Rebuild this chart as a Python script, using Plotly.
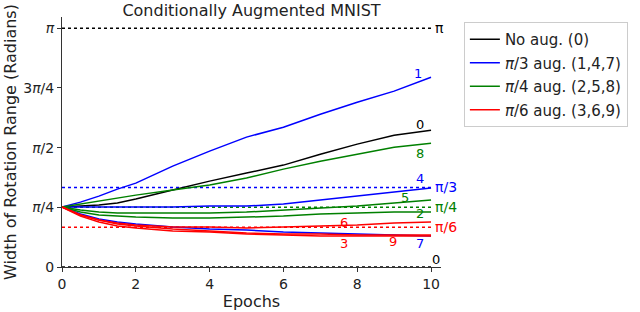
import math
import plotly.graph_objects as go

PI = math.pi

# ---- data ----
epochs = [0, 0.5, 1, 1.5, 2, 3, 4, 5, 6, 7, 8, 9, 10]

run0 = [0.789, 0.802, 0.815, 0.841, 0.894, 1.012, 1.130, 1.236, 1.341, 1.485, 1.617, 1.735, 1.801]
run1 = [0.789, 0.854, 0.933, 1.025, 1.104, 1.328, 1.525, 1.709, 1.840, 2.011, 2.169, 2.314, 2.498]
run4 = [0.789, 0.789, 0.789, 0.789, 0.789, 0.789, 0.802, 0.802, 0.828, 0.881, 0.933, 0.986, 1.038]
run7 = [0.789, 0.697, 0.631, 0.592, 0.565, 0.526, 0.500, 0.486, 0.460, 0.447, 0.434, 0.421, 0.407]
run2 = [0.789, 0.723, 0.684, 0.670, 0.657, 0.644, 0.644, 0.657, 0.670, 0.697, 0.710, 0.723, 0.723]
run5 = [0.789, 0.749, 0.723, 0.710, 0.710, 0.710, 0.710, 0.723, 0.749, 0.776, 0.802, 0.841, 0.881]
run8 = [0.789, 0.828, 0.868, 0.907, 0.946, 1.012, 1.078, 1.170, 1.288, 1.393, 1.485, 1.577, 1.630]
run3 = [0.789, 0.670, 0.592, 0.539, 0.513, 0.473, 0.460, 0.434, 0.421, 0.407, 0.407, 0.407, 0.407]
run6 = [0.789, 0.684, 0.618, 0.578, 0.552, 0.526, 0.526, 0.513, 0.526, 0.539, 0.552, 0.578, 0.592]
run9 = [0.789, 0.684, 0.618, 0.565, 0.539, 0.500, 0.473, 0.447, 0.434, 0.434, 0.421, 0.421, 0.421]

runs = {"0": run0, "1": run1, "2": run2, "3": run3, "4": run4,
        "5": run5, "6": run6, "7": run7, "8": run8, "9": run9}
run_group = {"0": 0, "1": 1, "4": 1, "7": 1, "2": 2, "5": 2, "8": 2, "3": 3, "6": 3, "9": 3}

group_names = ["No aug. (0)", "<i>π</i>/3 aug. (1,4,7)",
               "<i>π</i>/4 aug. (2,5,8)", "<i>π</i>/6 aug. (3,6,9)"]
group_colors = ["#000000", "#0000ff", "#008000", "#ff0000"]

# end-of-line digit labels: (epoch, value)
digit_labels = {"1": (9.65, 2.55), "0": (9.70, 1.88), "8": (9.70, 1.50), "4": (9.70, 1.17),
                "5": (9.30, 0.92), "2": (9.70, 0.70), "6": (7.63, 0.59), "3": (7.63, 0.315),
                "9": (8.98, 0.33), "7": (9.70, 0.315)}

# reference (target) rotation widths
ref_values = [PI, PI / 3, PI / 4, PI / 6, 0.0]
ref_labels = ["π", "π/3", "π/4", "π/6", "0"]
ref_colors = ["#000000", "#0000ff", "#008000", "#ff0000", "#000000"]

ytick_vals = [0, PI / 4, PI / 2, 3 * PI / 4, PI]
ytick_text = ["0", "<i>π</i>/4", "<i>π</i>/2", "3<i>π</i>/4", "<i>π</i>"]
xtick_vals = [0, 2, 4, 6, 8, 10]

FONT = "DejaVu Sans"

fig = go.Figure()

# reference dotted lines
for v, c in zip(ref_values, ref_colors):
    fig.add_shape(type="line", xref="x", yref="y", x0=0, x1=10, y0=v, y1=v,
                  line=dict(color=c, width=1.5, dash="dot"), layer="below")

shown = set()
for key in ["0", "1", "4", "7", "2", "5", "8", "3", "6", "9"]:
    g = run_group[key]
    fig.add_trace(go.Scatter(
        x=epochs, y=runs[key], mode="lines",
        line=dict(color=group_colors[g], width=1.5),
        name=group_names[g], legendgroup=str(g),
        showlegend=g not in shown, hoverinfo="skip"))
    shown.add(g)

# digit labels
for key, (ex, ey) in digit_labels.items():
    g = run_group[key]
    fig.add_annotation(x=ex, y=ey, xref="x", yref="y", text=key, showarrow=False,
                       font=dict(family=FONT, size=13, color=group_colors[g]),
                       xanchor="center", yanchor="middle")

# reference labels on the right
for v, lab, c in zip(ref_values, ref_labels, ref_colors):
    if lab == "0":
        fig.add_annotation(x=10.13, y=v, xref="x", yref="y", text=lab, showarrow=False,
                           font=dict(family=FONT, size=13, color=c),
                           xanchor="center", yanchor="bottom", yshift=-2)
    else:
        fig.add_annotation(x=10.05, y=v, xref="x", yref="y", text=lab, showarrow=False,
                           font=dict(family=FONT, size=14, color=c),
                           xanchor="left", yanchor="middle")

fig.update_layout(
    width=640, height=312,
    margin=dict(l=62, r=197, t=17, b=45),
    paper_bgcolor="white", plot_bgcolor="white",
    font=dict(family=FONT, size=14, color="#222"),
    title=dict(text="Conditionally Augmented MNIST", x=0.5, xref="paper",
               y=1 - 10 / 312, yref="container", yanchor="middle", xanchor="center",
               font=dict(family=FONT, size=16, color="#222")),
    showlegend=True,
    legend=dict(x=(466 - 62) / 381, y=1 - 5 / 250, xanchor="left", yanchor="top",
                bordercolor="#cccccc", borderwidth=1, bgcolor="white",
                font=dict(family=FONT, size=15, color="#222"),
                tracegroupgap=1, itemwidth=30),
)
fig.update_xaxes(range=[0, 10.27], tickvals=xtick_vals, ticks="outside", ticklen=4,
                 tickcolor="#333", showline=True, linecolor="#333", linewidth=1,
                 showgrid=False, zeroline=False, automargin=False,
                 title=dict(text="Epochs", standoff=2, font=dict(family=FONT, size=16)),
                 tickfont=dict(family=FONT, size=14))
fig.update_yaxes(range=[0, 3.29], tickvals=ytick_vals, ticktext=ytick_text,
                 ticks="outside", ticklen=4, tickcolor="#333",
                 showline=True, linecolor="#333", linewidth=1,
                 showgrid=False, zeroline=False, automargin=False,
                 title=dict(text="Width of Rotation Range (Radians)", standoff=2,
                            font=dict(family=FONT, size=16)),
                 tickfont=dict(family=FONT, size=14))

fig.write_html("out.html", config={"displayModeBar": False},
               post_script="document.body.style.margin='0';document.body.style.overflow='hidden';")
